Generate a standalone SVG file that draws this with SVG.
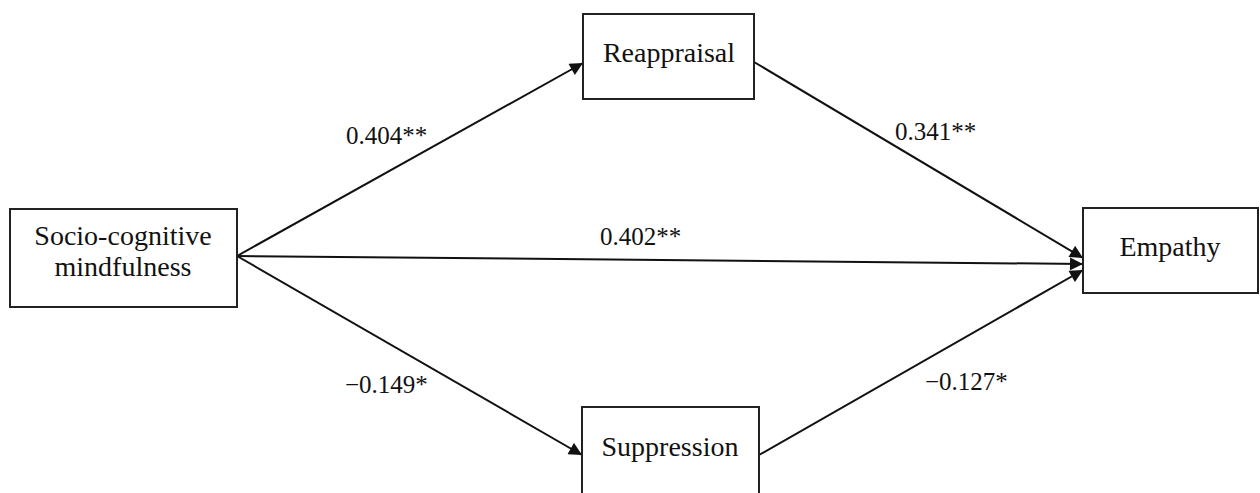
<svg xmlns="http://www.w3.org/2000/svg" width="1260" height="493" viewBox="0 0 1260 493">
  <style>
    .box { fill: #fff; stroke: #222; stroke-width: 2; }
    .lbl { font-family: 'Liberation Serif', 'DejaVu Serif', serif; font-size: 28px; fill: #111; text-anchor: middle; }
    .coef { font-family: 'Liberation Serif', 'DejaVu Serif', serif; font-size: 25px; fill: #111; }
    .edge { stroke: #111; stroke-width: 2; fill: none; marker-end: url(#head); }
  </style>
  <defs>
    <marker id="head" viewBox="0 0 10 10" refX="10" refY="5" markerWidth="15" markerHeight="13" markerUnits="userSpaceOnUse" orient="auto">
      <path d="M0,0 L10,5 L0,10 z" fill="#111"/>
    </marker>
  </defs>
  <rect width="1260" height="493" fill="#fff"/>

  <g id="connectors">
    <line class="edge" x1="237" y1="256" x2="583" y2="63"/>
    <line class="edge" x1="754" y1="62" x2="1083" y2="258"/>
    <line class="edge" x1="237" y1="256" x2="1083" y2="264"/>
    <line class="edge" x1="237" y1="256" x2="582" y2="455"/>
    <line class="edge" x1="759" y1="455" x2="1083" y2="270"/>
    <text class="coef" x="346" y="144">0.404**</text>
    <text class="coef" x="895" y="140">0.341**</text>
    <text class="coef" x="600" y="245">0.402**</text>
    <text class="coef" x="345" y="393">−0.149*</text>
    <text class="coef" x="925" y="390">−0.127*</text>
  </g>

  <g id="socio">
    <rect class="box" x="10" y="209" width="227" height="98"/>
    <text class="lbl" x="123" y="245">Socio-cognitive</text>
    <text class="lbl" x="123" y="276">mindfulness</text>
  </g>
  <g id="reappraisal">
    <rect class="box" x="583" y="14" width="171" height="85"/>
    <text class="lbl" x="669" y="62">Reappraisal</text>
  </g>
  <g id="empathy">
    <rect class="box" x="1083" y="208" width="175" height="85"/>
    <text class="lbl" x="1170" y="256">Empathy</text>
  </g>
  <g id="suppression">
    <rect class="box" x="582" y="407" width="177" height="100"/>
    <text class="lbl" x="670" y="456">Suppression</text>
  </g>
</svg>
